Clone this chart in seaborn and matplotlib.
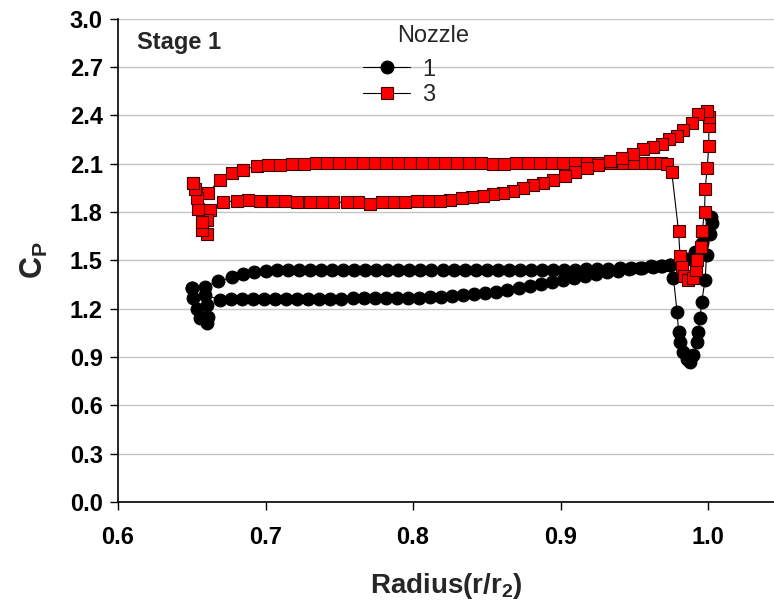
import matplotlib
matplotlib.use("Agg")
import matplotlib.pyplot as plt
import numpy as np
import pandas as pd
import seaborn as sns

# ---------------- data ----------------
x_ticks = [0.6, 0.7, 0.8, 0.9, 1.0]
y_ticks = [0.0, 0.3, 0.6, 0.9, 1.2, 1.5, 1.8, 2.1, 2.4, 2.7, 3.0]
nozzle_labels = ["1", "3"]

# Nozzle 1 : closed loop, r/r2 and Cp
r_nozzle1 = [
    0.650, 0.659, 0.668,
    0.6775, 0.685, 0.6925, 0.700, 0.7075, 0.715, 0.7225, 0.730, 0.7375, 0.745,
    0.7525, 0.760, 0.7675, 0.775, 0.7825, 0.790, 0.7975, 0.805, 0.8125, 0.820,
    0.8275, 0.835, 0.8425, 0.850, 0.8575, 0.865, 0.8725, 0.880, 0.8875, 0.895,
    0.9025, 0.910, 0.9175, 0.925, 0.9325, 0.940, 0.9475, 0.955, 0.9625, 0.969,
    0.9742, 0.9765, 0.979, 0.980, 0.981, 0.9833, 0.9855, 0.9878, 0.990, 0.9923,
    0.9934, 0.9946, 0.9957, 0.998, 0.999, 1.0014, 1.0024, 1.002,
    1.000, 0.9957, 0.991, 0.9855, 0.980, 0.974, 0.968,
    0.9615, 0.954, 0.9465, 0.939, 0.9315, 0.924, 0.9165, 0.909, 0.9015, 0.894,
    0.8865, 0.879, 0.8715, 0.864, 0.8565, 0.849, 0.8415, 0.834, 0.8265, 0.819,
    0.8115, 0.804, 0.7965, 0.789, 0.7815, 0.774, 0.7665, 0.759, 0.7515, 0.744,
    0.7365, 0.729, 0.7215, 0.714, 0.7065, 0.699, 0.6915, 0.684, 0.6765, 0.669,
    0.659, 0.660, 0.661, 0.660, 0.6556, 0.6533, 0.651, 0.650,
]
cp_nozzle1 = [
    1.326, 1.336, 1.370,
    1.394, 1.413, 1.430, 1.434, 1.437, 1.440, 1.440, 1.440, 1.441, 1.440,
    1.440, 1.441, 1.440, 1.440, 1.441, 1.440, 1.440, 1.441, 1.440, 1.440,
    1.441, 1.440, 1.440, 1.441, 1.440, 1.440, 1.441, 1.440, 1.440, 1.441,
    1.440, 1.442, 1.444, 1.446, 1.448, 1.450, 1.452, 1.455, 1.460, 1.465,
    1.470, 1.390, 1.180, 1.056, 0.994, 0.930, 0.890, 0.870, 0.910, 0.994,
    1.056, 1.140, 1.243, 1.378, 1.534, 1.660, 1.730, 1.770,
    1.680, 1.606, 1.554, 1.510, 1.480, 1.470, 1.465,
    1.462, 1.455, 1.447, 1.436, 1.426, 1.415, 1.402, 1.390, 1.377, 1.365,
    1.352, 1.340, 1.328, 1.315, 1.304, 1.296, 1.290, 1.284, 1.279, 1.274,
    1.270, 1.268, 1.266, 1.265, 1.264, 1.264, 1.263, 1.263, 1.262, 1.262,
    1.262, 1.262, 1.261, 1.261, 1.261, 1.260, 1.260, 1.260, 1.258, 1.256,
    1.285, 1.222, 1.150, 1.108, 1.139, 1.200, 1.264, 1.326,
]

# Nozzle 3 : closed loop, r/r2 and Cp
r_nozzle3 = [
    0.651, 0.661, 0.669, 0.6775, 0.685, 0.694, 0.702, 0.710,
    0.718, 0.726, 0.734, 0.742, 0.750, 0.758, 0.766, 0.774, 0.782, 0.790,
    0.798, 0.806, 0.814, 0.822, 0.830, 0.838, 0.846, 0.854, 0.862, 0.870,
    0.878, 0.886, 0.894, 0.902, 0.910, 0.918, 0.926, 0.934, 0.942, 0.950,
    0.957, 0.963, 0.968, 0.972,
    0.9754, 0.980, 0.981, 0.982, 0.984, 0.9865, 0.990, 0.9915, 0.9926, 0.9949,
    0.996, 0.9976, 0.998, 0.9994, 1.0005, 1.0005, 1.0005, 0.9994,
    0.9935, 0.989, 0.9833, 0.979, 0.9734, 0.9686, 0.963,
    0.9561, 0.9494, 0.9415, 0.9336, 0.9256, 0.9178, 0.9098, 0.9031, 0.8951, 0.8884,
    0.8816, 0.8748, 0.868, 0.8612, 0.8545, 0.8477, 0.8398, 0.833, 0.8251, 0.8183,
    0.8104, 0.8025, 0.7946, 0.7866, 0.7788, 0.7708, 0.7629, 0.755, 0.746, 0.7381,
    0.7302, 0.7211, 0.7132, 0.7053, 0.6963, 0.6883, 0.6805, 0.6714,
    0.6624, 0.660, 0.660, 0.657, 0.657, 0.6545, 0.6533, 0.652, 0.651,
]
cp_nozzle3 = [
    1.980, 1.917, 2.000, 2.040, 2.063, 2.083, 2.094, 2.094,
    2.100, 2.100, 2.104, 2.104, 2.104, 2.104, 2.104, 2.104, 2.104, 2.104,
    2.104, 2.104, 2.104, 2.104, 2.104, 2.104, 2.104, 2.095, 2.095, 2.104,
    2.104, 2.104, 2.104, 2.104, 2.104, 2.104, 2.104, 2.104, 2.104, 2.104,
    2.104, 2.104, 2.104, 2.100,
    2.046, 1.680, 1.525, 1.460, 1.400, 1.380, 1.390, 1.440, 1.500, 1.585,
    1.680, 1.800, 1.940, 2.070, 2.210, 2.330, 2.390, 2.425,
    2.405, 2.350, 2.310, 2.270, 2.250, 2.220, 2.200,
    2.190, 2.160, 2.135, 2.115, 2.094, 2.073, 2.050, 2.020, 2.000, 1.980,
    1.965, 1.950, 1.930, 1.920, 1.910, 1.900, 1.890, 1.886, 1.876, 1.870,
    1.870, 1.865, 1.860, 1.860, 1.860, 1.850, 1.860, 1.860, 1.860, 1.860,
    1.860, 1.860, 1.865, 1.870, 1.870, 1.876, 1.870, 1.860,
    1.814, 1.750, 1.660, 1.690, 1.740, 1.820, 1.886, 1.940, 1.980,
]

# ---------------- styling ----------------
sns.set_theme(style="white")
plt.rcParams["font.family"] = ["Liberation Sans", "DejaVu Sans"]
plt.rcParams["mathtext.default"] = "regular"

fig = plt.figure(figsize=(7.74, 6.04), dpi=100)
ax = fig.add_axes([118 / 774, 102 / 604, 656 / 774, 483.5 / 604])

df1 = pd.DataFrame({"r": r_nozzle1, "cp": cp_nozzle1})
df3 = pd.DataFrame({"r": r_nozzle3, "cp": cp_nozzle3})

sns.lineplot(data=df1, x="r", y="cp", sort=False, estimator=None, ax=ax,
             color="black", lw=0.8, marker="o", markersize=9.2,
             markerfacecolor="black", markeredgecolor="black",
             markeredgewidth=0.8, label=nozzle_labels[0], legend=False)
sns.lineplot(data=df3, x="r", y="cp", sort=False, estimator=None, ax=ax,
             color="black", lw=0.8, marker="s", markersize=9.2,
             markerfacecolor="#ff0000", markeredgecolor="#3a0000",
             markeredgewidth=0.8, label=nozzle_labels[1], legend=False)

ax.set_xlim(0.6, 1.0447)
ax.set_ylim(0.0, 3.0)
ax.set_xticks(x_ticks)
ax.set_xticklabels([f"{v:.1f}" for v in x_ticks])
ax.set_yticks(y_ticks)
ax.set_yticklabels([f"{v:.1f}" for v in y_ticks])

ax.grid(axis="y", color="#c4c4c4", lw=1.0)
ax.grid(axis="x", visible=False)
ax.set_axisbelow(True)

for s in ["top", "right"]:
    ax.spines[s].set_visible(False)
for s in ["left", "bottom"]:
    ax.spines[s].set_color("black")
    ax.spines[s].set_linewidth(1.2)

ax.tick_params(axis="both", which="major", direction="out", length=6, width=1,
               color="black", labelcolor="black", labelsize=17,
               bottom=True, left=True)
ax.tick_params(axis="x", pad=11)
ax.tick_params(axis="y", pad=5)
for lbl in ax.get_xticklabels() + ax.get_yticklabels():
    lbl.set_fontweight("bold")

ax.set_xlabel("Radius(r/r$_2$)", fontsize=20, fontweight="bold", labelpad=16)
ax.set_ylabel("C$_P$", fontsize=22, fontweight="bold", labelpad=14)

ax.text(0.029, 0.950, "Stage 1", transform=ax.transAxes, fontsize=17,
        fontweight="bold", ha="left", va="center")
ax.text(0.480, 0.963, "Nozzle", transform=ax.transAxes, fontsize=17,
        fontweight="normal", ha="center", va="center")

handles, labels = ax.get_legend_handles_labels()
ax.legend(handles, labels, loc="center left", bbox_to_anchor=(0.3735, 0.868),
          frameon=False, prop={"size": 17, "weight": "normal"},
          handlelength=2.0, handletextpad=0.5, labelspacing=0.15,
          borderpad=0, borderaxespad=0)

fig.savefig("out.png", dpi=100)
